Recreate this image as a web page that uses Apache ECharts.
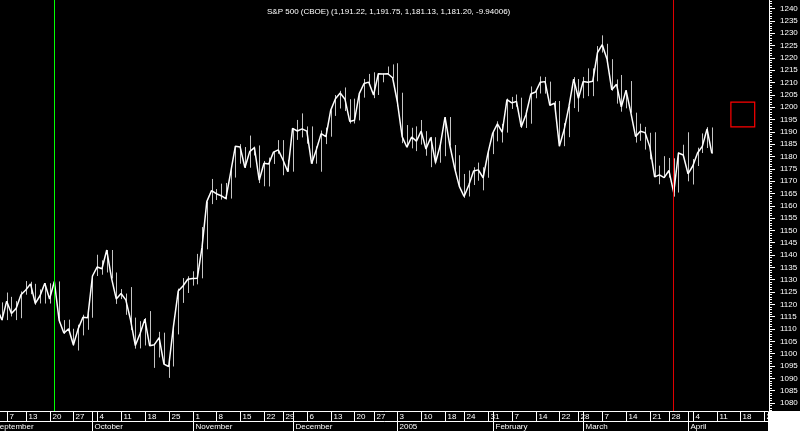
<!DOCTYPE html>
<html><head><meta charset="utf-8">
<script src="https://cdn.jsdelivr.net/npm/echarts@6/dist/echarts.min.js"></script>
<style>html,body{margin:0;padding:0;background:#000;}#c{width:800px;height:431px;}</style>
</head><body><div id="c"></div>
<script>
const dates = [
'2004-09-01','2004-09-02','2004-09-03','2004-09-07','2004-09-08','2004-09-09','2004-09-10','2004-09-13','2004-09-14','2004-09-15','2004-09-16','2004-09-17','2004-09-20','2004-09-21','2004-09-22','2004-09-23','2004-09-24','2004-09-27','2004-09-28','2004-09-29','2004-09-30',
'2004-10-01','2004-10-04','2004-10-05','2004-10-06','2004-10-07','2004-10-08','2004-10-11','2004-10-12','2004-10-13','2004-10-14','2004-10-15','2004-10-18','2004-10-19','2004-10-20','2004-10-21','2004-10-22','2004-10-25','2004-10-26','2004-10-27','2004-10-28','2004-10-29',
'2004-11-01','2004-11-02','2004-11-03','2004-11-04','2004-11-05','2004-11-08','2004-11-09','2004-11-10','2004-11-11','2004-11-12','2004-11-15','2004-11-16','2004-11-17','2004-11-18','2004-11-19','2004-11-22','2004-11-23','2004-11-24','2004-11-26','2004-11-29','2004-11-30',
'2004-12-01','2004-12-02','2004-12-03','2004-12-06','2004-12-07','2004-12-08','2004-12-09','2004-12-10','2004-12-13','2004-12-14','2004-12-15','2004-12-16','2004-12-17','2004-12-20','2004-12-21','2004-12-22','2004-12-23','2004-12-27','2004-12-28','2004-12-29','2004-12-30','2004-12-31',
'2005-01-03','2005-01-04','2005-01-05','2005-01-06','2005-01-07','2005-01-10','2005-01-11','2005-01-12','2005-01-13','2005-01-14','2005-01-18','2005-01-19','2005-01-20','2005-01-21','2005-01-24','2005-01-25','2005-01-26','2005-01-27','2005-01-28','2005-01-31',
'2005-02-01','2005-02-02','2005-02-03','2005-02-04','2005-02-07','2005-02-08','2005-02-09','2005-02-10','2005-02-11','2005-02-14','2005-02-15','2005-02-16','2005-02-17','2005-02-18','2005-02-22','2005-02-23','2005-02-24','2005-02-25','2005-02-28',
'2005-03-01','2005-03-02','2005-03-03','2005-03-04','2005-03-07','2005-03-08','2005-03-09','2005-03-10','2005-03-11','2005-03-14','2005-03-15','2005-03-16','2005-03-17','2005-03-18','2005-03-21','2005-03-22','2005-03-23','2005-03-24','2005-03-28','2005-03-29','2005-03-30','2005-03-31',
'2005-04-01','2005-04-04','2005-04-05','2005-04-06','2005-04-07','2005-04-08',
'2005-04-11','2005-04-12','2005-04-13','2005-04-14','2005-04-15','2005-04-18','2005-04-19','2005-04-20','2005-04-21','2005-04-22','2005-04-25','2005-04-26'
];
const closes = [
1105.91,1118.31,1113.63,1121.30,1116.27,1118.38,1123.92,1125.82,1128.33,1120.37,1123.50,1128.55,1122.20,1129.30,1113.56,1108.36,1110.11,1103.52,1110.06,1114.80,1114.58,
1131.50,1135.17,1134.48,1142.05,1130.65,1122.14,1124.39,1121.84,1113.65,1103.29,1108.20,1114.02,1103.23,1103.66,1106.49,1095.74,1094.80,1111.09,1125.40,1127.44,1130.20,
1130.51,1130.56,1143.20,1161.67,1166.17,1164.89,1164.08,1162.91,1173.48,1184.17,1183.81,1175.43,1181.94,1183.55,1170.34,1177.24,1176.94,1181.76,1182.65,1178.57,1173.82,
1191.37,1190.33,1191.17,1190.25,1177.07,1182.81,1189.24,1188.00,1198.68,1203.38,1205.72,1203.21,1194.20,1194.65,1205.45,1209.57,1210.13,1204.92,1213.54,1213.45,1213.55,1211.92,
1202.08,1188.05,1183.74,1187.89,1186.19,1190.25,1182.99,1187.70,1177.45,1184.52,1195.98,1184.63,1175.41,1167.87,1163.75,1168.41,1174.07,1174.55,1171.36,1181.27,
1189.41,1193.19,1189.89,1203.03,1201.72,1202.30,1191.99,1197.01,1205.30,1206.14,1210.12,1210.34,1200.75,1201.59,1184.16,1190.80,1200.20,1211.37,1203.60,
1210.41,1210.08,1210.47,1222.12,1225.31,1219.43,1207.01,1209.25,1200.08,1206.83,1197.75,1188.07,1190.21,1189.65,1183.78,1171.71,1172.53,1171.42,1174.28,1165.36,1181.41,1180.59,
1172.92,1176.12,1181.39,1184.07,1191.14,1181.20,
null,null,null,null,null,null,null,null,null,null,null,null
];
const highs = [
1109.24,1119.11,1120.80,1124.80,1123.05,1121.30,1125.26,1129.46,1129.17,1128.33,1126.06,1128.55,1128.55,1130.14,1129.30,1113.61,1113.80,1110.11,1111.77,1115.79,1116.31,
1131.64,1140.13,1137.87,1142.05,1142.05,1132.93,1126.20,1124.39,1127.01,1114.63,1113.17,1114.46,1117.28,1104.09,1108.87,1108.52,1096.81,1111.10,1126.37,1130.67,1131.40,
1133.41,1140.48,1151.36,1161.67,1170.87,1166.77,1168.96,1169.25,1174.80,1184.17,1184.99,1183.81,1188.46,1184.00,1184.46,1178.17,1179.52,1182.16,1186.62,1186.62,1178.66,
1191.37,1194.80,1197.46,1192.17,1192.17,1184.05,1190.51,1191.67,1198.74,1204.92,1206.61,1207.97,1203.21,1203.43,1205.85,1211.42,1213.46,1214.13,1213.61,1213.66,1216.47,1217.33,
1217.80,1205.84,1192.73,1191.63,1192.20,1194.78,1190.25,1187.92,1187.79,1185.21,1195.98,1195.98,1184.63,1180.48,1172.89,1174.30,1175.61,1177.50,1175.61,1182.06,
1190.39,1194.25,1193.19,1203.47,1204.15,1205.11,1203.83,1198.75,1208.38,1206.93,1212.44,1212.25,1210.34,1202.48,1202.48,1193.52,1200.42,1212.15,1211.37,
1212.25,1215.72,1215.72,1224.76,1229.11,1225.69,1219.43,1211.23,1213.04,1206.87,1210.57,1197.75,1193.28,1191.98,1189.59,1189.80,1176.26,1180.11,1179.39,1179.25,1181.59,1184.74,
1189.80,1178.93,1183.55,1189.34,1191.88,1191.75,
null,null,null,null,null,null,null,null,null,null,null,null
];
const lows = [
1099.18,1105.60,1113.57,1113.63,1115.10,1113.62,1114.39,1123.92,1124.12,1119.82,1120.37,1120.34,1120.34,1122.20,1112.67,1108.05,1108.36,1103.24,1101.29,1107.42,1109.68,
1114.58,1131.50,1132.03,1132.94,1130.50,1120.19,1122.14,1115.77,1109.63,1102.06,1102.14,1103.33,1103.15,1094.25,1098.47,1095.47,1090.19,1094.81,1107.82,1120.60,1124.62,
1127.60,1128.12,1130.56,1142.34,1160.66,1162.32,1162.48,1162.51,1162.91,1171.43,1177.07,1175.30,1175.43,1180.40,1169.19,1167.89,1167.82,1176.94,1181.08,1172.37,1173.81,
1173.82,1186.72,1187.71,1185.18,1177.07,1177.07,1173.79,1185.00,1188.00,1196.44,1199.44,1198.41,1193.36,1193.36,1194.62,1203.85,1208.96,1203.64,1204.92,1210.07,1213.41,1211.65,
1200.32,1185.39,1183.72,1183.27,1182.16,1184.80,1180.28,1175.64,1176.80,1177.45,1180.10,1184.41,1173.42,1167.82,1163.20,1163.75,1168.41,1170.15,1166.25,1171.36,
1180.95,1186.12,1185.64,1189.67,1199.27,1200.16,1191.54,1191.54,1193.28,1203.59,1205.52,1205.47,1200.74,1197.35,1184.16,1184.16,1187.80,1199.61,1198.13,
1203.60,1204.45,1204.45,1210.47,1222.12,1218.57,1206.66,1201.41,1198.15,1199.51,1197.75,1185.61,1186.34,1182.78,1178.82,1171.63,1168.70,1171.42,1171.42,1163.69,1165.36,1179.99,
1169.91,1168.61,1176.12,1181.39,1183.41,1181.13,
null,null,null,null,null,null,null,null,null,null,null,null
];
const yMin = 1075, yMax = 1245, yStep = 5;
const monthLabels = ['2005','February','March','April','May','June','July','August','September','October','November','December'];
const titleText = 'S&P 500 (CBOE) (1,191.22, 1,191.75, 1,181.13, 1,181.20, -9.94006)';
const greenDate = '2004-09-21';
const redDate = '2005-03-29';
const boxDates = ['2005-04-14','2005-04-21'];
const boxValues = [1202, 1192];

const FONT = "'Liberation Sans', Arial, sans-serif";
const chart = echarts.init(document.getElementById('c'), null, {renderer:'canvas'});

const hlData = [];
dates.forEach((d, i) => { if (lows[i] != null) hlData.push([i, lows[i], highs[i]]); });

chart.setOption({
  backgroundColor: '#000',
  animation: false,
  title: {
    text: titleText, left: 262, top: 3,
    textStyle: {color: '#fff', fontSize: 8, fontWeight: 'normal', fontFamily: FONT}
  },
  grid: {left: -7.6, right: 31, top: -3.83, bottom: 15.67, containLabel: false, outerBoundsMode: 'none'},
  xAxis: {
    type: 'category', data: dates, boundaryGap: false,
    axisLine: {show: false}, axisTick: {show: false}, axisLabel: {show: false}, splitLine: {show: false}
  },
  yAxis: {
    type: 'value', position: 'right', min: yMin, max: yMax, interval: yStep,
    axisLine: {show: true, lineStyle: {color: '#fff', width: 1}},
    axisTick: {show: true, length: 6, lineStyle: {color: '#fff'}},
    minorTick: {show: true, splitNumber: 5, length: 3, lineStyle: {color: '#fff'}},
    axisLabel: {color: '#fff', fontSize: 8, fontFamily: FONT, margin: 11, showMinLabel: false, showMaxLabel: false,
      formatter: function (v) { return String(v); }},
    splitLine: {show: false}
  },
  series: [
    {
      type: 'custom', data: hlData, clip: true, z: 2,
      encode: {x: 0, y: [1, 2]},
      renderItem: function (params, api) {
        const lo = api.coord([api.value(0), api.value(1)]);
        const hi = api.coord([api.value(0), api.value(2)]);
        const px = Math.round(lo[0]) + 0.5;
        return {type: 'line', shape: {x1: px, y1: lo[1], x2: px, y2: hi[1]}, style: {stroke: '#c4c4c4', lineWidth: 1}};
      }
    },
    {
      type: 'line', data: closes, showSymbol: false, symbol: 'none', z: 3, clip: true,
      lineStyle: {color: '#fff', width: 1.5},
      markLine: {
        silent: true, symbol: ['none', 'none'], label: {show: false},
        data: [
          {xAxis: greenDate, lineStyle: {color: '#00ff00', width: 1, type: 'solid'}},
          {xAxis: redDate, lineStyle: {color: '#e00000', width: 1, type: 'solid'}}
        ]
      },
      markArea: {
        silent: true,
        itemStyle: {color: 'rgba(0,0,0,0)', borderColor: '#ff0000', borderWidth: 1.2},
        data: [[{xAxis: boxDates[0], yAxis: boxValues[0]}, {xAxis: boxDates[1], yAxis: boxValues[1]}]]
      }
    }
  ]
});

// Bottom date strip (day row + month row), positioned from the category axis
const els = [];
const rowTop = 411.5, rowMid = 421.5, rowBot = 431;
const xEnd = 768.5;
els.push({type: 'rect', z: 100, shape: {x: -10, y: rowTop, width: xEnd + 10, height: rowBot - rowTop + 1}, style: {fill: '#000'}});
els.push({type: 'line', z: 101, shape: {x1: 0, y1: rowTop, x2: xEnd, y2: rowTop}, style: {stroke: '#fff', lineWidth: 1}});
els.push({type: 'line', z: 101, shape: {x1: 0, y1: rowMid, x2: xEnd, y2: rowMid}, style: {stroke: '#fff', lineWidth: 1}});
function parse(d) { const p = d.split('-').map(Number); return new Date(Date.UTC(p[0], p[1] - 1, p[2])); }
dates.forEach((d, i) => {
  const dt = parse(d);
  const px = Math.round(chart.convertToPixel({xAxisIndex: 0}, i)) + 0.5;
  let weekStart = false, monthStart = (i === 0);
  if (i > 0) {
    const prev = parse(dates[i - 1]);
    weekStart = dt.getUTCDay() < prev.getUTCDay() || (dt - prev) >= 7 * 86400000;
    monthStart = dt.getUTCMonth() !== prev.getUTCMonth();
  }
  if (weekStart) {
    els.push({type: 'line', z: 101, shape: {x1: px, y1: rowTop, x2: px, y2: rowMid}, style: {stroke: '#fff', lineWidth: 1}});
    els.push({type: 'text', z: 102, x: px + 2, y: (rowTop + rowMid) / 2 + 0.5,
      style: {text: String(dt.getUTCDate()), fill: '#fff', font: '8px ' + FONT, verticalAlign: 'middle', align: 'left'}});
  }
  if (monthStart) {
    els.push({type: 'line', z: 101, shape: {x1: px, y1: rowTop, x2: px, y2: rowBot}, style: {stroke: '#fff', lineWidth: 1}});
    els.push({type: 'text', z: 102, x: px + 2, y: (rowMid + rowBot) / 2 + 0.5,
      style: {text: monthLabels[dt.getUTCMonth()], fill: '#fff', font: '8px ' + FONT, verticalAlign: 'middle', align: 'left'}});
  }
});
els.push({type: 'line', z: 103, shape: {x1: xEnd, y1: rowTop, x2: xEnd, y2: rowBot}, style: {stroke: '#fff', lineWidth: 1}});
els.push({type: 'rect', z: 104, shape: {x: xEnd + 0.5, y: rowTop - 0.5, width: 40, height: 30}, style: {fill: '#fff'}});
chart.setOption({graphic: {elements: els}});
</script>
</body></html>
